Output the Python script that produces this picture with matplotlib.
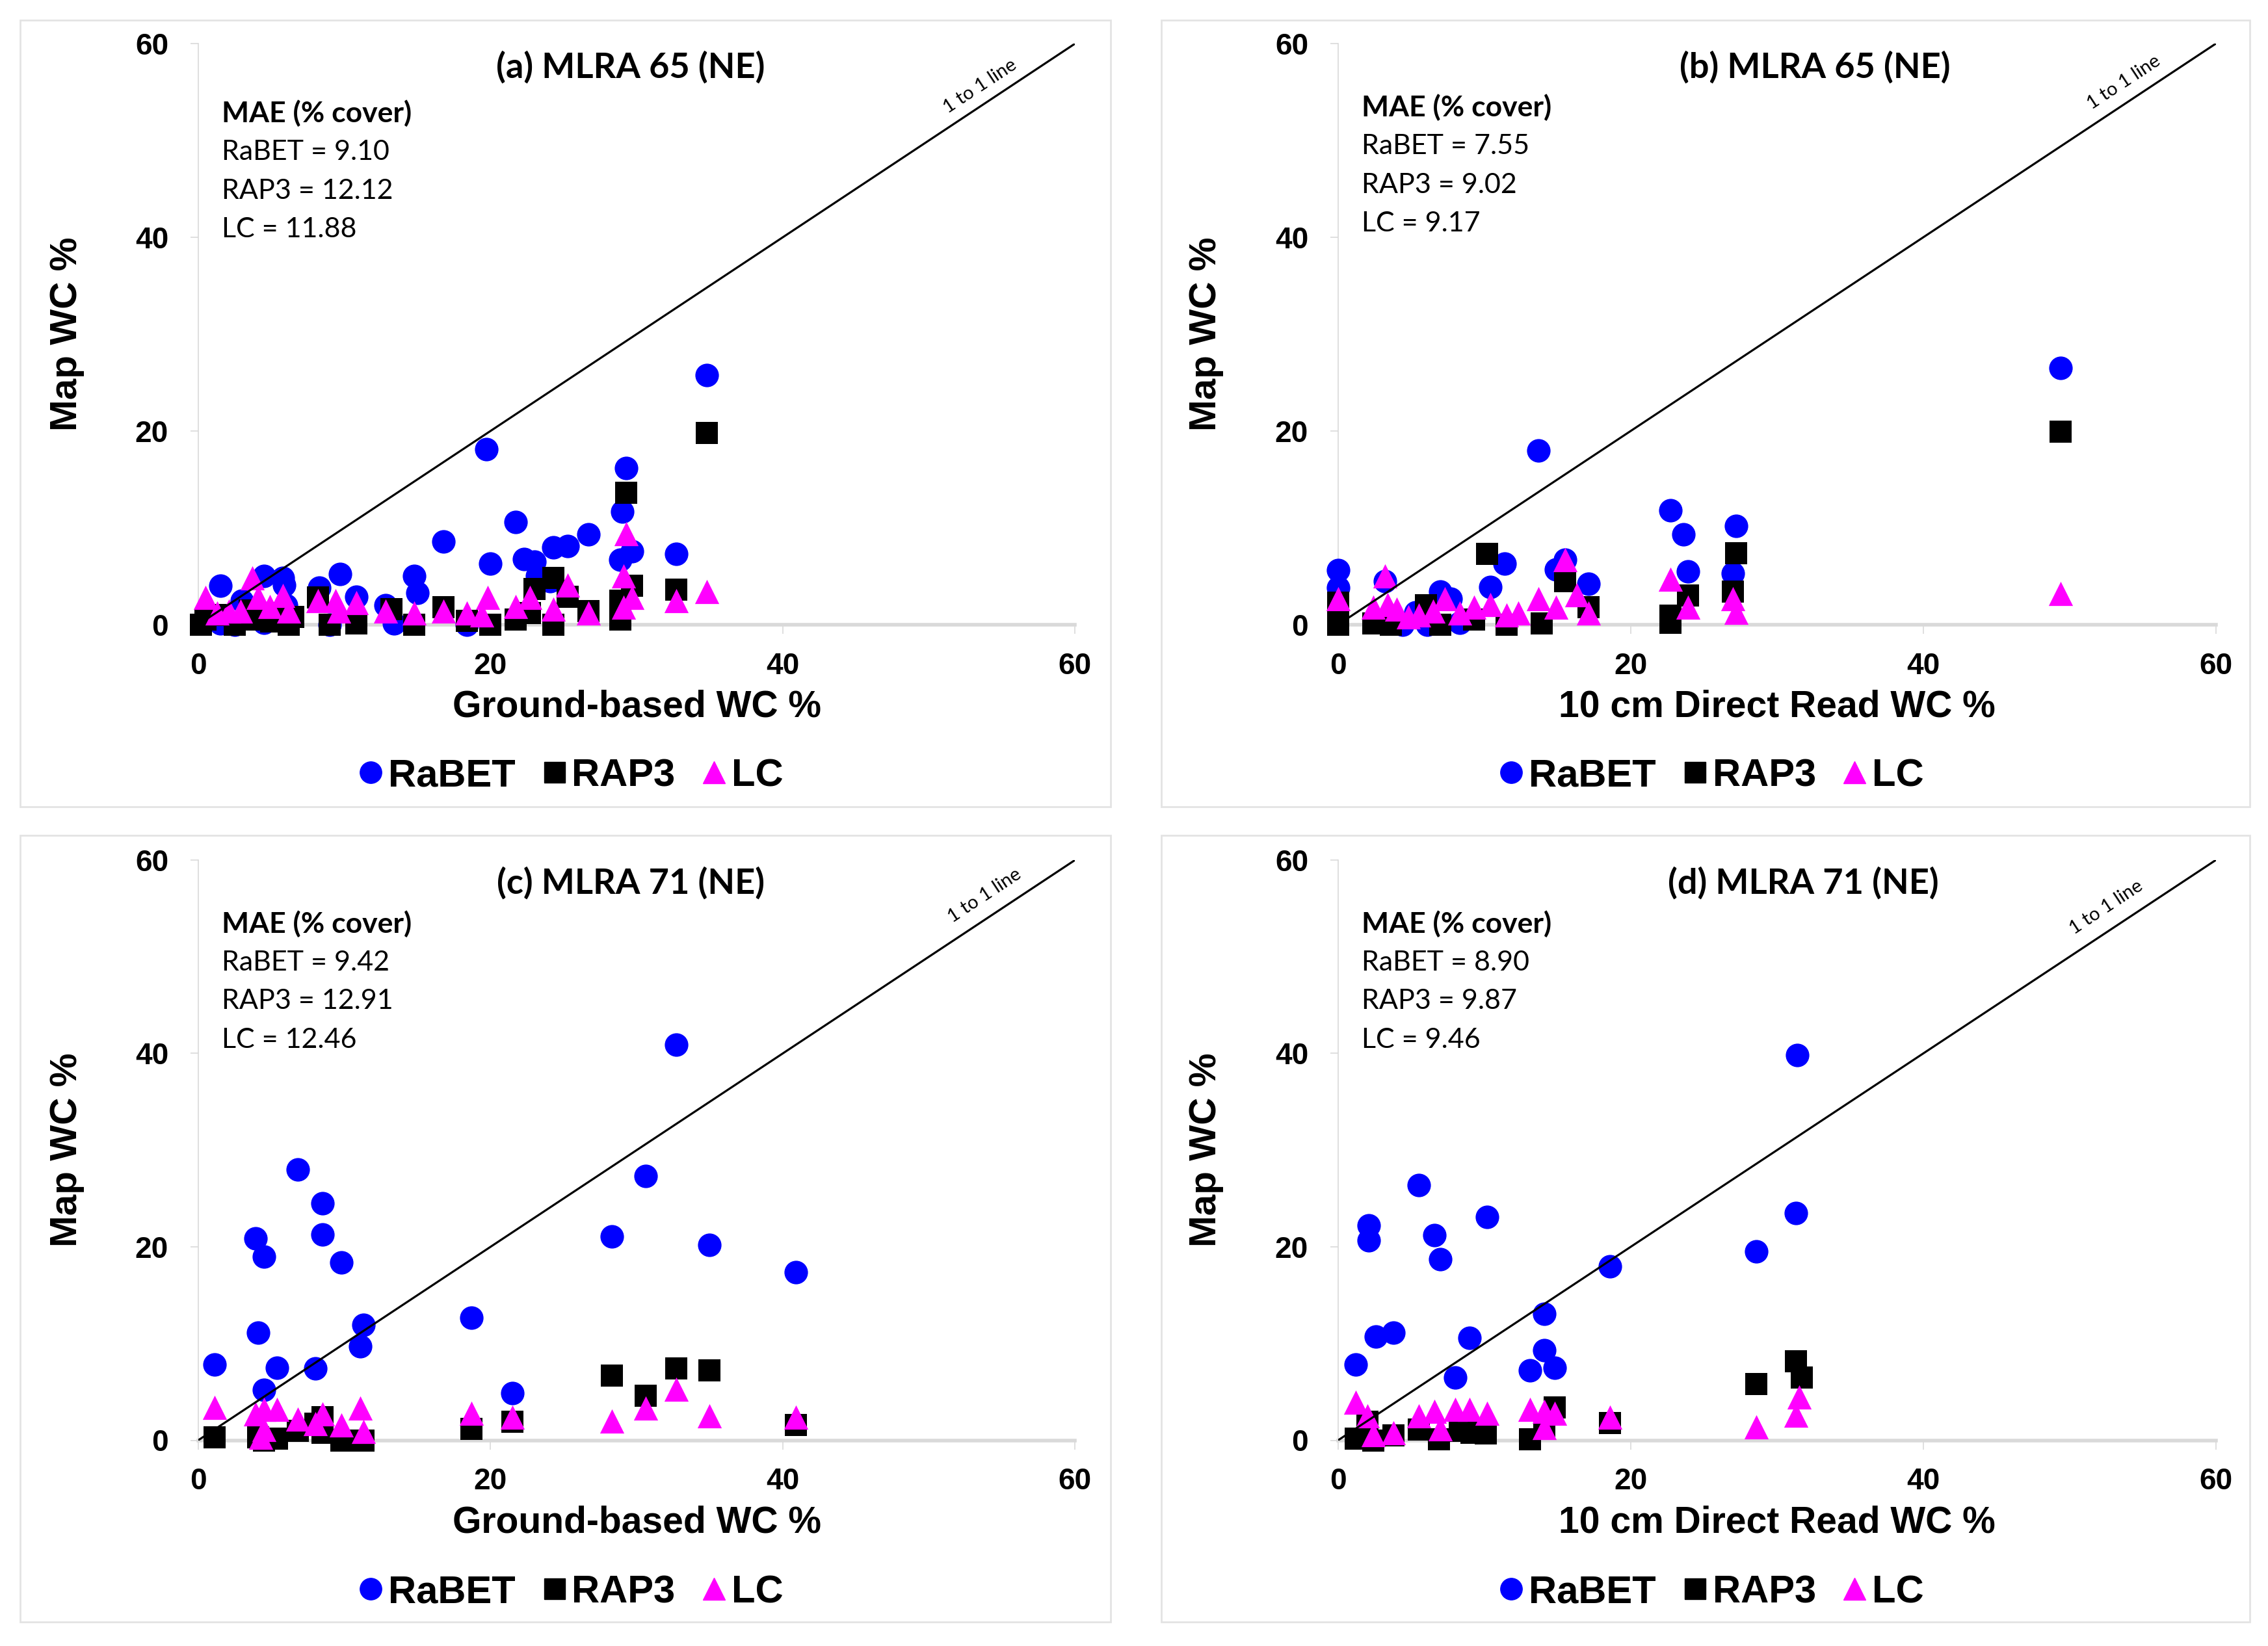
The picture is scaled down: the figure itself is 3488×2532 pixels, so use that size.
import matplotlib
matplotlib.use("Agg")
import matplotlib.pyplot as plt
from matplotlib.patches import Rectangle
from matplotlib.lines import Line2D

# ---- data ----
a_rabet_x = [34.8, 19.7, 29.3, 29.0, 21.7, 16.8, 26.7, 25.3, 24.3, 20.0, 22.3, 23.0, 29.7, 28.9, 32.7, 23.2, 24.1, 14.8,
             15.0, 9.7, 8.3, 10.8, 12.8, 1.5, 4.5, 5.8, 5.9, 13.4, 18.4, 1.5, 2.5, 4.5, 9.0, 3.0, 6.0]
a_rabet_y = [25.8, 18.1, 16.2, 11.7, 10.6, 8.6, 9.3, 8.1, 8.0, 6.3, 6.8, 6.5, 7.6, 6.7, 7.3, 5.0, 4.5, 5.0,
             3.3, 5.2, 3.8, 2.9, 2.0, 4.0, 5.0, 4.8, 4.1, 0.1, 0.0, 0.1, 0.0, 0.2, 0.0, 2.5, 2.0]
a_rap3_x = [34.8, 29.3, 24.3, 29.7, 32.7, 25.3, 23.0, 28.9, 28.9, 24.3, 16.8, 26.7, 22.7, 21.7, 20.0, 18.4, 14.8, 13.2,
            10.8, 9.0, 8.2, 5.0, 5.5, 6.2, 6.5, 0.5, 0.2, 2.5, 4.0, 1.5, 3.5]
a_rap3_y = [19.8, 13.6, 4.8, 4.0, 3.6, 2.9, 3.7, 2.5, 0.5, 0.0, 1.8, 1.4, 1.2, 0.5, 0.0, 0.4, 0.0, 1.6,
            0.1, 0.0, 2.8, 0.3, 1.2, 0.0, 0.8, 0.5, 0.0, 0.0, 0.5, 1.0, 1.5]
a_lc_x = [29.3, 34.8, 32.7, 29.1, 29.7, 29.1, 25.3, 26.7, 24.3, 22.7, 21.7, 19.8, 19.4, 18.4, 16.8, 14.8, 12.8, 10.8,
          9.4, 8.2, 9.6, 3.7, 0.5, 2.1, 4.1, 4.9, 5.8, 6.2, 1.3, 2.9]
a_lc_y = [9.4, 3.4, 2.5, 5.0, 2.8, 1.8, 4.1, 1.2, 1.6, 2.8, 1.9, 2.8, 1.0, 1.2, 1.4, 1.2, 1.4, 2.3,
          2.5, 2.5, 1.4, 4.8, 2.8, 1.4, 2.8, 1.9, 3.0, 1.4, 1.2, 1.4]

b_rabet_x = [49.4, 13.7, 22.7, 23.6, 27.2, 23.9, 27.0, 11.4, 15.5, 14.9, 17.1, 10.4, 0.0, 0.0, 3.2, 7.0, 7.7, 4.4, 6.1,
             8.3, 5.3]
b_rabet_y = [26.5, 18.0, 11.8, 9.3, 10.2, 5.5, 5.3, 6.3, 6.7, 5.7, 4.2, 3.9, 5.6, 3.8, 4.5, 3.4, 2.7, 0.0, 0.0,
             0.2, 1.3]
b_rap3_x = [49.4, 10.2, 27.2, 15.5, 27.0, 23.9, 17.1, 22.7, 22.7, 13.9, 11.5, 9.3, 0.0, 0.0, 2.4, 6.0, 7.0, 3.6]
b_rap3_y = [19.9, 7.3, 7.4, 4.5, 3.4, 3.0, 1.8, 0.9, 0.2, 0.1, 0.0, 0.5, 0.0, 2.3, 0.1, 2.0, 0.0, 0.0]
b_lc_x = [49.4, 22.7, 23.9, 27.0, 27.2, 15.5, 16.3, 17.1, 13.7, 14.9, 12.3, 11.5, 10.4, 9.3, 8.3, 7.3, 3.2, 0.0,
          2.4, 4.0, 4.8, 5.5, 6.5, 3.4]
b_lc_y = [3.2, 4.7, 1.8, 2.7, 1.3, 6.7, 3.1, 1.2, 2.7, 1.8, 1.2, 1.0, 2.1, 1.8, 1.2, 2.7, 5.0, 2.7,
          1.8, 1.6, 0.8, 1.0, 1.4, 2.1]

c_rabet_x = [32.7, 6.8, 30.6, 8.5, 8.5, 3.9, 4.5, 9.8, 28.3, 35.0, 40.9, 18.7, 11.3, 11.1, 4.1, 1.1, 5.4, 8.0, 4.5, 21.5]
c_rabet_y = [40.9, 28.0, 27.3, 24.5, 21.3, 20.9, 19.0, 18.4, 21.1, 20.2, 17.4, 12.7, 11.9, 9.7, 11.1, 7.8, 7.5, 7.4,
             5.2, 4.9]
c_rap3_x = [28.3, 30.6, 32.7, 35.0, 18.7, 21.5, 40.9, 1.1, 4.1, 4.5, 5.4, 6.8, 8.5, 8.5, 9.8, 11.3, 8.0]
c_rap3_y = [6.7, 4.6, 7.4, 7.2, 1.2, 1.9, 1.6, 0.3, 0.3, 0.0, 0.2, 1.0, 2.4, 0.8, 0.0, 0.0, 1.7]
c_lc_x = [1.1, 32.7, 30.6, 35.0, 28.3, 18.7, 21.5, 40.9, 11.1, 11.3, 9.8, 8.5, 8.0, 6.8, 5.4, 4.5, 3.9, 4.5, 4.3]
c_lc_y = [3.4, 5.3, 3.3, 2.5, 2.0, 2.8, 2.4, 2.4, 3.3, 0.9, 1.6, 2.7, 1.7, 2.2, 3.2, 3.2, 2.7, 1.1, 0.3]

d_rabet_x = [31.4, 5.5, 31.3, 2.1, 2.1, 10.2, 6.6, 7.0, 28.6, 18.6, 14.1, 2.6, 3.8, 9.0, 1.2, 8.0, 14.1, 13.1, 14.8]
d_rabet_y = [39.8, 26.4, 23.5, 22.2, 20.7, 23.1, 21.2, 18.7, 19.5, 18.0, 13.1, 10.7, 11.1, 10.6, 7.8, 6.5, 9.3, 7.2,
             7.5]
d_rap3_x = [31.3, 31.7, 28.6, 14.8, 18.6, 1.2, 2.4, 3.8, 5.5, 6.9, 8.3, 10.1, 9.1, 13.1, 14.1, 2.0]
d_rap3_y = [8.2, 6.5, 5.8, 3.4, 1.8, 0.2, 0.0, 0.5, 1.1, 0.1, 1.0, 0.7, 0.8, 0.1, 1.3, 1.9]
d_lc_x = [1.2, 31.5, 31.3, 28.6, 18.6, 13.1, 14.1, 14.8, 14.1, 10.2, 9.0, 8.0, 6.6, 5.5, 7.0, 2.0, 2.4, 3.8]
d_lc_y = [3.9, 4.5, 2.6, 1.4, 2.4, 3.2, 3.0, 2.8, 1.3, 2.8, 3.2, 3.2, 3.0, 2.5, 1.2, 2.5, 0.6, 0.8]

titles = ["(a) MLRA 65 (NE)", "(b) MLRA 65 (NE)", "(c) MLRA 71 (NE)", "(d) MLRA 71 (NE)"]
xlabels = ["Ground-based WC %", "10 cm Direct Read WC %", "Ground-based WC %", "10 cm Direct Read WC %"]
mae_rabet = ["9.10", "7.55", "9.42", "8.90"]
mae_rap3 = ["12.12", "9.02", "12.91", "9.87"]
mae_lc = ["11.88", "9.17", "12.46", "9.46"]
ticks = [0, 20, 40, 60]

panels = [
    (a_rabet_x, a_rabet_y, a_rap3_x, a_rap3_y, a_lc_x, a_lc_y),
    (b_rabet_x, b_rabet_y, b_rap3_x, b_rap3_y, b_lc_x, b_lc_y),
    (c_rabet_x, c_rabet_y, c_rap3_x, c_rap3_y, c_lc_x, c_lc_y),
    (d_rabet_x, d_rabet_y, d_rap3_x, d_rap3_y, d_lc_x, d_lc_y),
]

# axes boxes in figure fractions, panel frames, legend centres
axes_boxes = [(0.0874, 0.6205, 0.3866, 0.353), (0.590, 0.6205, 0.387, 0.353),
              (0.0874, 0.125, 0.3866, 0.3525), (0.590, 0.125, 0.387, 0.3525)]
frames = [(0.0089, 0.5099, 0.4808, 0.4779), (0.512, 0.5099, 0.480, 0.4779),
          (0.0089, 0.0146, 0.4808, 0.4779), (0.512, 0.0146, 0.480, 0.4779)]
legend_pos = [(0.2506, 0.5285), (0.7535, 0.5285), (0.2506, 0.0325), (0.7535, 0.0325)]
title_x = [29.6, 32.6, 29.6, 31.8]
mae_y = [52.8, 53.4, 53.4, 53.4]
oneline_pos = [(53.5, 55.6), (53.7, 56.0), (53.8, 56.3), (52.5, 55.1)]

BLUE = "#0000FF"
MAGENTA = "#FF00FF"
GRAY = "#D9D9D9"
lbl_font = "Lato"
arial = "Liberation Sans"

fig = plt.figure(figsize=(34.88, 25.32), dpi=100)

for i, (rx, ry, px, py, lx, ly) in enumerate(panels):
    fig.patches.append(Rectangle(frames[i][:2], frames[i][2], frames[i][3], transform=fig.transFigure,
                                 fill=False, edgecolor="#E3E3E3", linewidth=2))
    ax = fig.add_axes(axes_boxes[i])
    ax.scatter(rx, ry, s=680, marker="o", color=BLUE, zorder=3, clip_on=False, linewidths=0)
    ax.scatter(px, py, s=600, marker="s", color="black", zorder=4, clip_on=False, linewidths=0)
    ax.scatter(lx, ly, s=720, marker="^", color=MAGENTA, zorder=5, clip_on=False, linewidths=0)
    ax.plot([0, 60], [0, 60], color="black", linewidth=2.3, zorder=6)

    ax.set_xlim(0, 60)
    ax.set_ylim(0, 60)
    ax.set_xticks(ticks)
    ax.set_yticks(ticks)
    for s in ["top", "right"]:
        ax.spines[s].set_visible(False)
    ax.spines["bottom"].set_color(GRAY)
    ax.spines["bottom"].set_linewidth(4)
    ax.spines["left"].set_color(GRAY)
    ax.spines["left"].set_linewidth(1.2)
    ax.tick_params(axis="x", direction="out", length=10, width=1.2, color=GRAY, pad=20)
    ax.tick_params(axis="y", direction="out", length=9, width=1.2, color=GRAY, pad=24)
    for t in ax.get_xticklabels() + ax.get_yticklabels():
        t.set_fontfamily(arial)
        t.set_fontweight("bold")
        t.set_fontsize(33)

    ax.set_xlabel(xlabels[i], fontfamily=arial, fontweight="bold", fontsize=41)
    ax.xaxis.set_label_coords(0.5, -0.112)
    ax.set_ylabel("Map WC %", fontfamily=arial, fontweight="bold", fontsize=42)
    ax.yaxis.set_label_coords(-0.13, 0.5)

    ax.text(title_x[i], 57.6, titles[i], ha="center", va="center", fontfamily=lbl_font,
            fontweight="bold", fontsize=39)
    y0 = mae_y[i]
    ax.text(1.6, y0, "MAE (% cover)", ha="left", va="center", fontfamily=lbl_font,
            fontweight="bold", fontsize=32)
    ax.text(1.6, y0 - 4, "RaBET = " + mae_rabet[i], ha="left", va="center", fontfamily=lbl_font, fontsize=31)
    ax.text(1.6, y0 - 8, "RAP3 = " + mae_rap3[i], ha="left", va="center", fontfamily=lbl_font, fontsize=31)
    ax.text(1.6, y0 - 12, "LC = " + mae_lc[i], ha="left", va="center", fontfamily=lbl_font, fontsize=31)
    ax.text(oneline_pos[i][0], oneline_pos[i][1], "1 to 1 line", ha="center", va="center",
            rotation=33.4, rotation_mode="anchor", fontfamily=lbl_font, fontsize=21)

    handles = [
        Line2D([], [], linestyle="none", marker="o", markersize=24, color=BLUE),
        Line2D([], [], linestyle="none", marker="s", markersize=23, color="black"),
        Line2D([], [], linestyle="none", marker="^", markersize=25, color=MAGENTA),
    ]
    fig.legend(handles, ["RaBET", "RAP3", "LC"], loc="center", bbox_to_anchor=legend_pos[i],
               ncol=3, frameon=False, handletextpad=0.0, columnspacing=0.55, handlelength=0.9,
               prop={"family": arial, "weight": "bold", "size": 43})

fig.savefig("out.png", dpi=100)
